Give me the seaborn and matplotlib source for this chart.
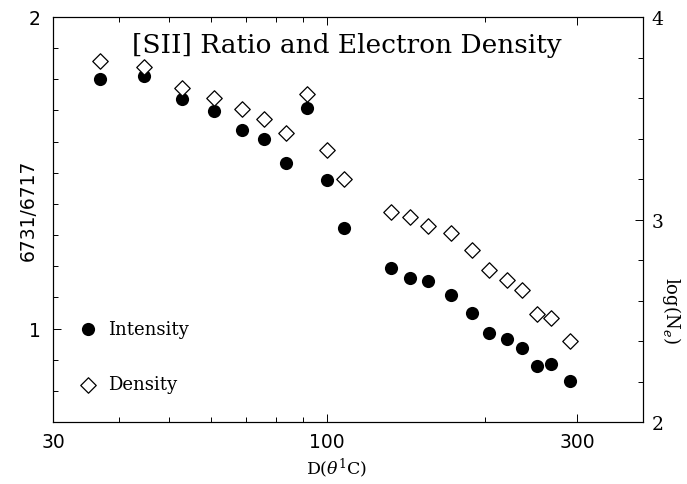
import matplotlib
matplotlib.use("Agg")
import matplotlib.pyplot as plt
import seaborn as sns
from matplotlib.ticker import FixedLocator, FixedFormatter, NullFormatter, MultipleLocator

# ---- data ----
distance = [36.8, 44.7, 52.8, 60.7, 68.9, 75.6, 83.6, 91.6, 100.0, 107.8,
            132.4, 143.8, 155.6, 172.1, 188.7, 203.3, 220.0, 234.9, 250.8, 266.7, 289.8]
intensity_ratio = [1.80, 1.81, 1.736, 1.698, 1.637, 1.608, 1.531, 1.707, 1.476, 1.322,
                   1.193, 1.161, 1.151, 1.109, 1.051, 0.987, 0.968, 0.936, 0.881, 0.887, 0.830]
log_density = [3.783, 3.753, 3.649, 3.600, 3.546, 3.496, 3.427, 3.620, 3.343, 3.200,
               3.037, 3.012, 2.968, 2.933, 2.849, 2.751, 2.701, 2.652, 2.533, 2.514, 2.400]

x_major = [30, 100, 300]
x_major_labels = ["30", "100", "300"]
x_minor = [40, 50, 60, 70, 80, 90, 200]
left_major = [1, 2]
right_major = [2, 3, 4]
series_labels = ["Intensity", "Density"]

sns.set_style("ticks")
plt.rcParams["mathtext.fontset"] = "dejavuserif"
plt.rcParams["text.color"] = "black"
plt.rcParams["xtick.labelcolor"] = "black"
plt.rcParams["ytick.labelcolor"] = "black"

W, H = 687, 485
fig = plt.figure(figsize=(W / 100, H / 100), dpi=100)
ax = fig.add_axes([53 / W, 62 / H, 590 / W, 405 / H])
ax2 = ax.twinx()

sns.scatterplot(x=distance, y=intensity_ratio, ax=ax, marker="o", s=90,
                color="black", edgecolor="black", linewidth=0, legend=False)
sns.scatterplot(x=distance, y=log_density, ax=ax2, marker="D", s=62,
                color="white", edgecolor="black", linewidth=0.9, legend=False)

ax.set_xscale("log")
ax.set_xlim(30, 400)
ax.set_ylim(0.7, 2.0)
ax2.set_ylim(2, 4)

ax.xaxis.set_major_locator(FixedLocator(x_major))
ax.xaxis.set_major_formatter(FixedFormatter(x_major_labels))
ax.xaxis.set_minor_locator(FixedLocator(x_minor))
ax.xaxis.set_minor_formatter(NullFormatter())

ax.yaxis.set_major_locator(FixedLocator(left_major))
ax.yaxis.set_major_formatter(FixedFormatter([str(v) for v in left_major]))
ax.yaxis.set_minor_locator(MultipleLocator(0.1))
ax2.yaxis.set_major_locator(FixedLocator(right_major))
ax2.yaxis.set_major_formatter(FixedFormatter([str(v) for v in right_major]))
ax2.yaxis.set_minor_locator(MultipleLocator(0.2))

ax.set_xlabel("")
ax.set_ylabel("")
ax2.set_ylabel("")

for a in (ax, ax2):
    for sp in a.spines.values():
        sp.set_linewidth(0.8)
        sp.set_color("black")
        sp.set_visible(True)

ax.tick_params(which="both", direction="in", top=True, right=False, width=0.7, color="black")
ax.tick_params(which="major", length=6)
ax.tick_params(which="minor", length=3.5)
ax.tick_params(axis="x", which="major", pad=7, labelsize=13.5, labelfontfamily="DejaVu Sans")
ax.tick_params(axis="y", which="major", pad=9, labelsize=13.5, labelfontfamily="DejaVu Sans")
ax2.tick_params(which="both", direction="in", left=False, right=True, width=0.7, color="black")
ax2.tick_params(which="major", length=6, pad=6, labelsize=13.5, labelfontfamily="DejaVu Serif")
ax2.tick_params(which="minor", length=3.5)

# title and axis labels
fig.text(347 / W, 1 - 45 / H, "[SII] Ratio and Electron Density",
         ha="center", va="center", fontsize=19, family="DejaVu Serif", color="black")
fig.text(28 / W, 1 - 210 / H, "6731/6717", rotation=90, ha="center", va="center",
         fontsize=13.5, family="DejaVu Sans", color="black")
fig.text(672 / W, 1 - 310 / H, "log(N$_e$)", rotation=270, ha="center", va="center",
         fontsize=13, family="DejaVu Serif", color="black")
fig.text(337 / W, 1 - 468 / H, r"D($\theta^1$C)", ha="center", va="center",
         fontsize=12.5, family="DejaVu Serif", color="black")

h1 = ax.collections[0]
h2 = ax2.collections[0]
ax.legend([h1, h2], series_labels, loc="upper left", bbox_to_anchor=(0.044, 0.253),
          borderaxespad=0, borderpad=0, frameon=False, handlelength=1.0,
          handletextpad=0.6, labelspacing=2.1, scatterpoints=1,
          prop={"family": "DejaVu Serif", "size": 13})

fig.savefig("out.png", dpi=100, facecolor="white")
